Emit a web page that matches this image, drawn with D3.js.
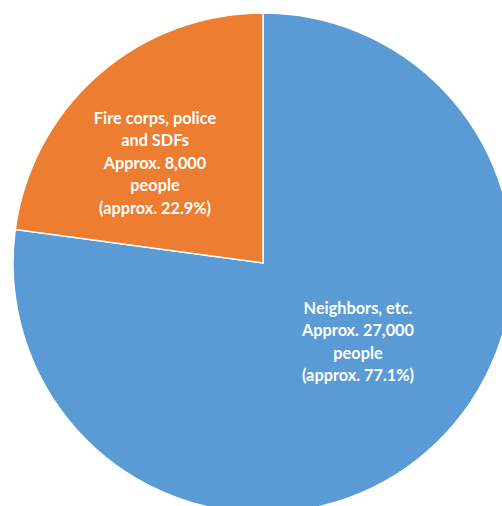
<!DOCTYPE html>
<html lang="en">
<head>
    <meta charset="UTF-8">
    <title>Pie</title>
    <script src="https://d3js.org/d3.v7.min.js"></script>
    <style>
        body { margin: 0; background: #fff; }
        .lbl { font-family: Lato, "Open Sans", sans-serif; font-weight: bold; font-size: 16.3px; fill: #fff; }
    </style>
</head>
<body>
    <svg id="chart" width="502" height="506"></svg>
    <script>
        // data
        const categories = ["Neighbors, etc.", "Fire corps, police and SDFs"];
        const values = [27000, 8000];
        const labels = [
            ["Neighbors, etc.", "Approx. 27,000", "people", "(approx. 77.1%)"],
            ["Fire corps, police", "and SDFs", "Approx. 8,000", "people", "(approx. 22.9%)"]
        ];
        const colors = ["#5B9BD5", "#ED7D31"];
        // label centre offsets from the pie centre
        const labelOffsets = [[95, 79], [-108, -100]];

        const svg = d3.select("#chart");
        const cx = 263, cy = 263, radius = 250;

        const g = svg.append("g").attr("transform", `translate(${cx},${cy})`);

        const pie = d3.pie().sort(null).value(d => d);
        const arc = d3.arc().innerRadius(0).outerRadius(radius);
        const arcs = pie(values);

        g.selectAll("path")
            .data(arcs)
            .enter().append("path")
            .attr("d", arc)
            .attr("fill", (d, i) => colors[i])
            .attr("stroke", "#fff")
            .attr("stroke-width", 1.5);

        const lineH = 22.5;
        arcs.forEach((a, i) => {
            const lines = labels[i];
            const [ox, oy] = labelOffsets[i];
            const t = g.append("text")
                .attr("class", "lbl")
                .attr("text-anchor", "middle");
            lines.forEach((s, j) => {
                t.append("tspan")
                    .attr("x", ox)
                    .attr("y", oy + (j - (lines.length - 1) / 2) * lineH)
                    .attr("dy", "0.35em")
                    .text(s);
            });
        });
    </script>
</body>
</html>
